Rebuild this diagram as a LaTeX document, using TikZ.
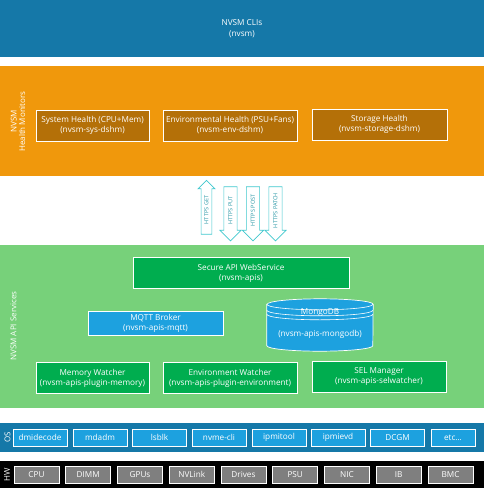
\documentclass[tikz,border=0pt]{standalone}
\usepackage{fontspec}
\setmainfont{Open Sans}
\usetikzlibrary{shapes.arrows, positioning}
\definecolor{cliblue}{RGB}{21,120,168}
\definecolor{hmorange}{RGB}{240,152,12}
\definecolor{hmbrown}{RGB}{180,112,8}
\definecolor{apigreen}{RGB}{119,209,122}
\definecolor{boxgreen}{RGB}{0,173,79}
\definecolor{skyblue}{RGB}{29,161,223}
\definecolor{hwgray}{RGB}{127,127,127}
\definecolor{httpcyan}{RGB}{64,200,206}
\definecolor{httptext}{RGB}{40,150,165}
\tikzset{
  band/.style={rectangle, inner sep=0pt, minimum width=484pt, text=white,
               align=center, font=\fontsize{8.2}{10.5}\selectfont},
  block/.style={rectangle, draw=white, line width=0.7pt, inner sep=0pt,
                minimum height=31pt, text=white, align=center,
                font=\fontsize{8.2}{10}\selectfont},
  hmblock/.style={block, fill=hmbrown},
  gblock/.style={block, fill=boxgreen},
  bblock/.style={block, fill=skyblue, minimum height=24pt},
  osblock/.style={block, fill=skyblue, minimum width=54pt, minimum height=17pt},
  hwblock/.style={block, fill=hwgray, minimum width=45pt, minimum height=17pt},
  sidelabel/.style={rotate=90, text=white, align=center,
                    font=\fontsize{8}{8.5}\selectfont},
  httparrow/.style={single arrow, draw=httpcyan, fill=white, line width=0.7pt,
                    rotate=90, minimum height=54pt, single arrow head extend=3pt,
                    inner xsep=1pt, inner ysep=2.5pt, text height=4.2pt, text depth=0.4pt,
                    text=httptext, font=\fontsize{5.6}{6}\selectfont},
}
\begin{document}
\begin{tikzpicture}[x=1pt, y=-1pt]
  \useasboundingbox (0,0) rectangle (484,488);
  % layers
  \node[band, fill=cliblue, minimum height=57pt] (cli) at (242,28.5) {NVSM CLIs\\(nvsm)};
  \node[band, fill=hmorange, minimum height=110pt] (hm) at (242,121) {};
  \node[band, fill=apigreen, minimum height=163pt] (api) at (242,326.5) {};
  \node[band, fill=cliblue, minimum height=29pt] (os) at (242,437.5) {};
  \node[band, fill=black, minimum height=27pt] (hw) at (242,474.5) {};
  % health monitors
  \node[sidelabel] at (18,121.5) {NVSM\\Health Monitors};
  \node[hmblock, minimum width=113pt] (sysh) at (92.5,125.5) {System Health (CPU+Mem)\\(nvsm-sys-dshm)};
  \node[hmblock, minimum width=134pt] (envh) at (230,125.5) {Environmental Health (PSU+Fans)\\(nvsm-env-dshm)};
  \node[hmblock, minimum width=135pt] (stoh) at (379.5,124.5) {Storage Health\\(nvsm-storage-dshm)};
  % https verbs
  \node[httparrow, minimum width=17pt] (get) at (206.5,210) {HTTPS GET};
  \node[httparrow, shape border rotate=180, minimum width=21pt] (put) at (230.5,210.5) {HTTPS PUT};
  \node[httparrow, shape border rotate=180, minimum width=21pt] (post) at (253,210.5) {HTTPS POST};
  \node[httparrow, shape border rotate=180, minimum width=21pt] (patch) at (275.5,210.5) {HTTPS PATCH};
  % api services
  \node[sidelabel] at (13.5,326) {NVSM API Services};
  \node[gblock, minimum width=216pt] (apis) at (241,273) {Secure API WebService\\(nvsm-apis)};
  \node[bblock, minimum width=135pt] (mqtt) at (155.5,323) {MQTT Broker\\(nvsm-apis-mqtt)};
  \node[minimum width=106pt, minimum height=52pt, inner sep=0pt] (mongo) at (320,325) {};
  \fill[skyblue, draw=white, line width=0.7pt]
    ([yshift=-5.5pt]mongo.north west) -- ([yshift=5.5pt]mongo.south west)
    arc[start angle=180, end angle=360, x radius=53pt, y radius=5.5pt]
    -- ([yshift=-5.5pt]mongo.north east)
    arc[start angle=0, end angle=180, x radius=53pt, y radius=5.5pt] -- cycle;
  \foreach \dy in {5.5,11.5,15.5}
    \draw[white, line width=0.6pt] ([yshift=-\dy pt]mongo.north west)
      arc[start angle=180, end angle=360, x radius=53pt, y radius=5.5pt];
  \node[text=white, font=\fontsize{8.2}{9}\selectfont] at ([yshift=-13.5pt]mongo.north) {MongoDB};
  \node[text=white, font=\fontsize{8.2}{9}\selectfont] at ([yshift=-9pt]mongo.center) {(nvsm-apis-mongodb)};
  \node[gblock, minimum width=113pt] (memw) at (92.5,378) {Memory Watcher\\(nvsm-apis-plugin-memory)};
  \node[gblock, minimum width=134pt] (envw) at (230,378) {Environment Watcher\\(nvsm-apis-plugin-environment)};
  \node[gblock, minimum width=134pt] (selm) at (379,377) {SEL Manager\\(nvsm-apis-selwatcher)};
  % os
  \node[sidelabel] at (7.5,437.5) {OS};
  \foreach \x/\name [count=\i] in {40/dmidecode, 100/mdadm, 159.5/lsblk, 219/nvme-cli,
                                    279/ipmitool, 338/ipmievd, 397.5/DCGM}
    \node[osblock] (os\i) at (\x,437.5) {\name};
  \node[osblock, minimum width=44pt] (os8) at (453,437.5) {etc\ldots};
  % hardware
  \node[sidelabel] at (7,474.5) {HW};
  \foreach \name [count=\i from 0] in {CPU, DIMM, GPUs, NVLink, Drives, PSU, NIC, IB, BMC}
    \node[hwblock] (hw\i) at (36.5+51.75*\i,474.5) {\name};
\end{tikzpicture}
\end{document}
